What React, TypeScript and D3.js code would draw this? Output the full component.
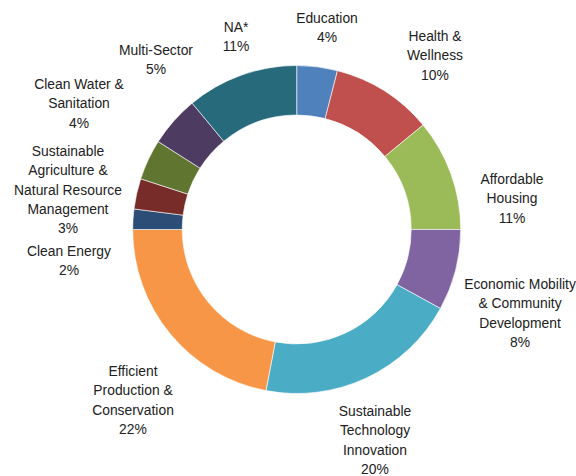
import { useEffect, useRef } from "react";
import * as d3 from "d3";

// slices, clockwise from 12 o'clock
const categories = [
  "Education",
  "Health & Wellness",
  "Affordable Housing",
  "Economic Mobility & Community Development",
  "Sustainable Technology Innovation",
  "Efficient Production & Conservation",
  "Clean Energy",
  "Sustainable Agriculture & Natural Resource Management",
  "Clean Water & Sanitation",
  "Multi-Sector",
  "NA*",
];
const shares = [4, 10, 11, 8, 20, 22, 2, 3, 4, 5, 11];
const labelLines = [
  ["Education"],
  ["Health &", "Wellness"],
  ["Affordable", "Housing"],
  ["Economic Mobility", "& Community", "Development"],
  ["Sustainable", "Technology", "Innovation"],
  ["Efficient", "Production &", "Conservation"],
  ["Clean Energy"],
  ["Sustainable", "Agriculture &", "Natural Resource", "Management"],
  ["Clean Water &", "Sanitation"],
  ["Multi-Sector"],
  ["NA*"],
];
const sliceColors = [
  "#4f81bd", "#c0504d", "#9bbb59", "#8064a2", "#4bacc6", "#f79646",
  "#2c4d75", "#772c2a", "#5f7530", "#4d3b62", "#276a7c",
];

// label anchors (center x, top of first line)
const labelAnchors: [number, number][] = [
  [327, 12], [435, 30], [512, 173], [520, 278], [375, 405], [133, 365],
  [69, 245], [68, 145], [79, 78], [156, 44], [236, 21],
];

const W = 576;
const H = 476;

export default function App() {
  const svgRef = useRef<SVGSVGElement | null>(null);

  useEffect(() => {
    if (!svgRef.current) return;
    const svg = d3.select(svgRef.current);
    svg.selectAll("*").remove();

    const cx = 296.7;
    const cy = 229.5;
    const outerR = 164;
    const innerR = 114.5;

    const pie = d3.pie<number>().sort(null).value(d => d);
    const arc = d3.arc<d3.PieArcDatum<number>>().innerRadius(innerR).outerRadius(outerR);

    const g = svg.append("g").attr("transform", `translate(${cx},${cy})`);
    g.selectAll("path")
      .data(pie(shares))
      .enter()
      .append("path")
      .attr("d", arc)
      .attr("fill", (_d, i) => sliceColors[i])
      .attr("stroke", "#ffffff")
      .attr("stroke-width", 0.6);

    const lineH = 19.3;
    const labels = svg.append("g")
      .attr("font-family", "'Liberation Sans', Arial, sans-serif")
      .attr("font-size", 15)
      .attr("fill", "#222222")
      .attr("text-anchor", "middle");

    // condensed look: squeeze the regular face horizontally
    categories.forEach((_c, i) => {
      const [x, y] = labelAnchors[i];
      const lines = [...labelLines[i], `${shares[i]}%`];
      const t = labels.append("text")
        .attr("transform", `translate(${x},0) scale(0.925,1)`);
      lines.forEach((ln, j) => {
        t.append("tspan").attr("x", 0).attr("y", y + 11 + j * lineH).text(ln);
      });
    });
  }, []);

  return (
    <svg
      ref={svgRef}
      width={W}
      height={H}
      style={{ position: "absolute", left: 0, top: 0, background: "#fff" }}
    />
  );
}
